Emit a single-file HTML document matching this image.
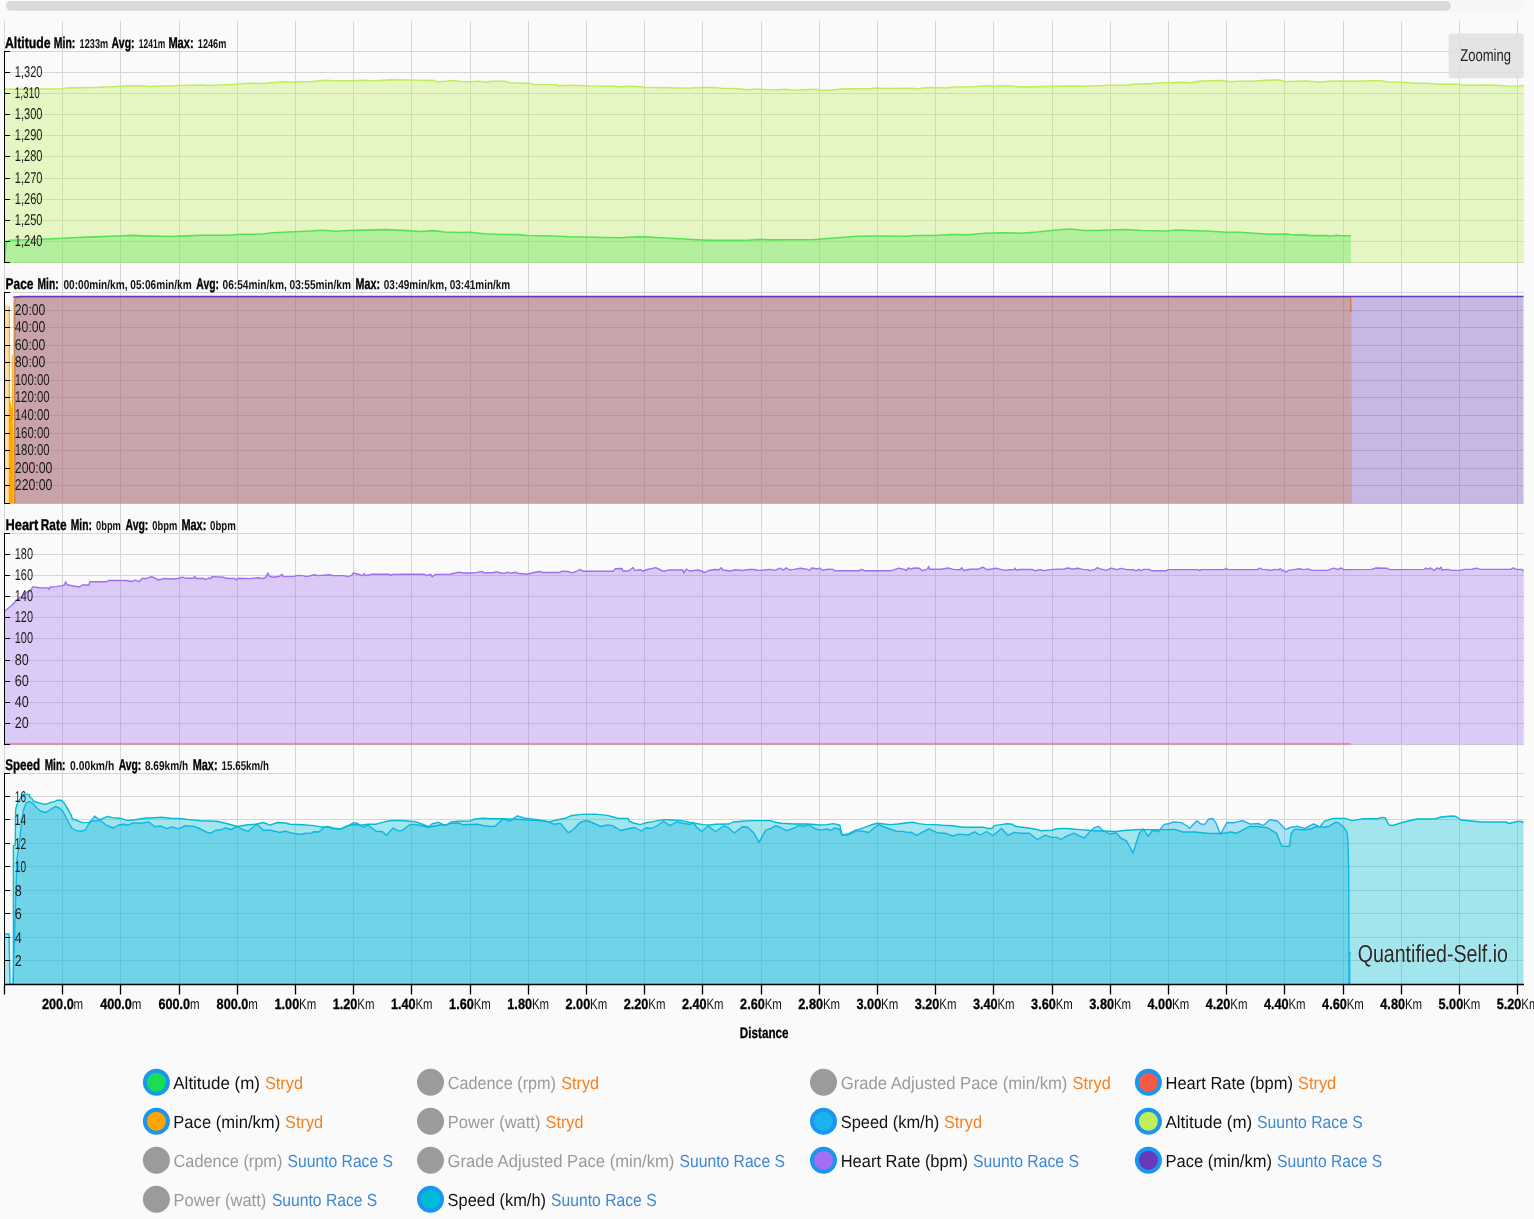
<!DOCTYPE html><html><head><meta charset="utf-8"><title>Chart</title><style>html,body{margin:0;padding:0;background:#fafafa;width:1534px;height:1219px;overflow:hidden}svg{display:block;will-change:transform}text{text-rendering:geometricPrecision}</style></head><body>
<svg width="1534" height="1219" viewBox="0 0 1534 1219">
<rect width="1534" height="1219" fill="#fafafa"/>
<rect x="4.5" y="0" width="1519" height="12.3" rx="6.1" fill="#f6f6f6"/>
<rect x="5.5" y="0.3" width="1446" height="11" rx="5.5" fill="#d9d9d9" stroke="#ffffff" stroke-width="1"/>
<path d="M4.5,21V984 M62.5,21V984 M120.5,21V984 M179.5,21V984 M237.5,21V984 M295.5,21V984 M353.5,21V984 M411.5,21V984 M470.5,21V984 M528.5,21V984 M586.5,21V984 M644.5,21V984 M702.5,21V984 M761.5,21V984 M819.5,21V984 M877.5,21V984 M935.5,21V984 M993.5,21V984 M1052.5,21V984 M1110.5,21V984 M1168.5,21V984 M1226.5,21V984 M1284.5,21V984 M1343.5,21V984 M1401.5,21V984 M1459.5,21V984 M1517.5,21V984 M4.5,51.5H1524.0 M4.5,72.5H1524.0 M4.5,93.5H1524.0 M4.5,114.5H1524.0 M4.5,135.5H1524.0 M4.5,156.5H1524.0 M4.5,178.5H1524.0 M4.5,199.5H1524.0 M4.5,220.5H1524.0 M4.5,241.5H1524.0 M4.5,262.5H1524.0 M4.5,292.5H1524.0 M4.5,310.5H1524.0 M4.5,327.5H1524.0 M4.5,345.5H1524.0 M4.5,362.5H1524.0 M4.5,380.5H1524.0 M4.5,397.5H1524.0 M4.5,415.5H1524.0 M4.5,433.5H1524.0 M4.5,450.5H1524.0 M4.5,468.5H1524.0 M4.5,485.5H1524.0 M4.5,503.5H1524.0 M4.5,744.5H1524.0 M4.5,723.5H1524.0 M4.5,702.5H1524.0 M4.5,681.5H1524.0 M4.5,660.5H1524.0 M4.5,638.5H1524.0 M4.5,617.5H1524.0 M4.5,596.5H1524.0 M4.5,575.5H1524.0 M4.5,554.5H1524.0 M4.5,533.5H1524.0 M4.5,773.5H1524.0 M4.5,796.5H1524.0 M4.5,819.5H1524.0 M4.5,843.5H1524.0 M4.5,866.5H1524.0 M4.5,890.5H1524.0 M4.5,913.5H1524.0 M4.5,937.5H1524.0 M4.5,960.5H1524.0 M4.5,984.5H1524.0" stroke="rgba(0,0,0,0.14)" stroke-width="1" fill="none" shape-rendering="crispEdges"/>
<polygon points="4.5,263.0 4.5,262.5 5.2,252.0 6.0,245.0 6.8,241.5 10.2,240.3 17.0,240.0 42.4,239.3 67.8,238.0 93.2,236.9 118.6,236.0 132.2,235.4 144.0,235.9 169.5,236.5 186.4,235.9 203.4,235.2 228.8,235.2 240.7,234.2 255.0,234.2 263.5,234.0 272.0,232.8 288.9,232.0 305.8,231.3 322.8,230.3 336.4,231.3 348.2,230.5 365.2,230.1 385.5,229.6 407.5,230.6 421.1,231.5 433.0,230.6 444.8,232.0 458.4,232.5 470.3,232.2 483.8,233.7 500.8,234.5 510.0,234.5 518.5,234.6 527.0,235.5 552.4,236.0 569.3,236.8 586.3,237.0 603.2,237.5 620.2,237.7 637.1,236.7 645.6,236.9 659.2,237.7 679.5,238.7 696.4,239.7 713.4,240.4 730.3,240.4 747.3,240.3 760.8,239.4 770.0,239.9 790.4,239.7 812.5,239.7 824.3,238.7 841.3,237.5 858.2,236.2 875.2,236.0 907.4,236.2 914.2,235.5 934.5,235.5 951.4,234.5 968.4,234.8 985.3,233.3 1002.3,232.8 1020.0,233.2 1037.0,232.0 1053.9,230.3 1069.2,229.0 1084.4,230.5 1096.3,230.5 1111.5,230.0 1125.1,229.5 1142.0,230.5 1167.5,231.0 1175.9,230.0 1189.5,230.5 1206.4,231.0 1226.8,232.2 1240.3,232.3 1257.3,233.5 1271.2,234.2 1287.6,234.1 1289.4,234.5 1299.3,234.9 1307.6,235.1 1308.7,235.6 1326.9,235.5 1328.7,236.0 1333.4,235.7 1336.9,235.2 1340.4,235.7 1351.0,235.7 1351.0,263.0" fill="#1ddc57" fill-opacity="0.35"/>
<polyline points="4.5,262.5 5.2,252.0 6.0,245.0 6.8,241.5 10.2,240.3 17.0,240.0 42.4,239.3 67.8,238.0 93.2,236.9 118.6,236.0 132.2,235.4 144.0,235.9 169.5,236.5 186.4,235.9 203.4,235.2 228.8,235.2 240.7,234.2 255.0,234.2 263.5,234.0 272.0,232.8 288.9,232.0 305.8,231.3 322.8,230.3 336.4,231.3 348.2,230.5 365.2,230.1 385.5,229.6 407.5,230.6 421.1,231.5 433.0,230.6 444.8,232.0 458.4,232.5 470.3,232.2 483.8,233.7 500.8,234.5 510.0,234.5 518.5,234.6 527.0,235.5 552.4,236.0 569.3,236.8 586.3,237.0 603.2,237.5 620.2,237.7 637.1,236.7 645.6,236.9 659.2,237.7 679.5,238.7 696.4,239.7 713.4,240.4 730.3,240.4 747.3,240.3 760.8,239.4 770.0,239.9 790.4,239.7 812.5,239.7 824.3,238.7 841.3,237.5 858.2,236.2 875.2,236.0 907.4,236.2 914.2,235.5 934.5,235.5 951.4,234.5 968.4,234.8 985.3,233.3 1002.3,232.8 1020.0,233.2 1037.0,232.0 1053.9,230.3 1069.2,229.0 1084.4,230.5 1096.3,230.5 1111.5,230.0 1125.1,229.5 1142.0,230.5 1167.5,231.0 1175.9,230.0 1189.5,230.5 1206.4,231.0 1226.8,232.2 1240.3,232.3 1257.3,233.5 1271.2,234.2 1287.6,234.1 1289.4,234.5 1299.3,234.9 1307.6,235.1 1308.7,235.6 1326.9,235.5 1328.7,236.0 1333.4,235.7 1336.9,235.2 1340.4,235.7 1351.0,235.7" fill="none" stroke="#1ddc57" stroke-width="1.6" stroke-linejoin="round" />
<polygon points="4.5,263.0 4.5,89.3 20.0,89.1 62.0,88.8 67.0,88.0 100.0,87.3 125.0,86.0 140.0,85.8 150.0,86.5 180.0,85.5 200.0,85.0 210.0,85.5 235.0,84.3 250.0,83.2 263.6,83.5 270.3,82.8 283.9,81.7 294.1,82.2 300.8,81.7 311.0,81.8 324.6,80.3 334.7,80.8 351.7,80.8 366.9,80.2 372.0,81.0 390.7,79.9 411.0,80.0 424.6,80.5 433.1,80.2 436.4,81.7 446.6,81.3 450.0,80.5 461.9,81.5 470.3,81.8 478.8,81.2 485.6,82.2 490.7,81.3 504.2,81.3 510.1,82.8 530.4,83.5 533.8,84.5 555.8,84.7 559.2,85.8 572.8,85.3 584.7,85.7 589.7,86.0 615.2,86.2 620.3,86.7 630.4,86.2 640.6,86.7 645.7,87.2 666.0,87.7 683.0,88.0 688.0,88.3 703.3,87.2 716.9,87.7 722.0,88.3 738.9,88.8 747.4,89.8 755.8,89.0 765.0,89.5 776.9,89.7 785.4,89.2 790.5,90.2 815.9,89.2 821.0,90.4 827.8,90.2 844.7,88.9 870.2,88.7 873.6,88.0 887.1,88.5 912.5,88.2 917.6,89.0 922.7,88.0 934.6,87.5 946.4,88.0 954.9,87.0 971.9,86.7 980.3,86.3 988.8,85.8 994.2,86.5 1000.7,85.8 1010.8,86.0 1020.0,86.9 1032.0,86.9 1048.9,86.4 1074.3,86.0 1082.8,86.3 1099.7,85.7 1109.9,85.2 1125.2,85.3 1133.6,84.2 1150.6,83.6 1164.2,82.8 1184.5,82.4 1191.3,82.9 1198.1,81.4 1209.9,80.7 1221.8,80.5 1230.3,81.7 1240.4,81.3 1252.3,81.2 1265.8,80.4 1278.5,79.8 1285.3,81.7 1290.3,81.5 1303.9,81.0 1320.8,82.0 1329.3,81.3 1341.2,81.0 1354.7,81.3 1371.7,80.7 1380.2,80.7 1388.6,82.0 1402.2,82.3 1414.1,83.2 1425.9,83.2 1439.5,84.2 1456.4,84.2 1463.2,85.2 1490.3,85.0 1507.3,86.0 1517.5,86.3 1520.8,85.5 1524.0,86.5 1524.0,263.0" fill="#c0ee5a" fill-opacity="0.35"/>
<polyline points="4.5,89.3 20.0,89.1 62.0,88.8 67.0,88.0 100.0,87.3 125.0,86.0 140.0,85.8 150.0,86.5 180.0,85.5 200.0,85.0 210.0,85.5 235.0,84.3 250.0,83.2 263.6,83.5 270.3,82.8 283.9,81.7 294.1,82.2 300.8,81.7 311.0,81.8 324.6,80.3 334.7,80.8 351.7,80.8 366.9,80.2 372.0,81.0 390.7,79.9 411.0,80.0 424.6,80.5 433.1,80.2 436.4,81.7 446.6,81.3 450.0,80.5 461.9,81.5 470.3,81.8 478.8,81.2 485.6,82.2 490.7,81.3 504.2,81.3 510.1,82.8 530.4,83.5 533.8,84.5 555.8,84.7 559.2,85.8 572.8,85.3 584.7,85.7 589.7,86.0 615.2,86.2 620.3,86.7 630.4,86.2 640.6,86.7 645.7,87.2 666.0,87.7 683.0,88.0 688.0,88.3 703.3,87.2 716.9,87.7 722.0,88.3 738.9,88.8 747.4,89.8 755.8,89.0 765.0,89.5 776.9,89.7 785.4,89.2 790.5,90.2 815.9,89.2 821.0,90.4 827.8,90.2 844.7,88.9 870.2,88.7 873.6,88.0 887.1,88.5 912.5,88.2 917.6,89.0 922.7,88.0 934.6,87.5 946.4,88.0 954.9,87.0 971.9,86.7 980.3,86.3 988.8,85.8 994.2,86.5 1000.7,85.8 1010.8,86.0 1020.0,86.9 1032.0,86.9 1048.9,86.4 1074.3,86.0 1082.8,86.3 1099.7,85.7 1109.9,85.2 1125.2,85.3 1133.6,84.2 1150.6,83.6 1164.2,82.8 1184.5,82.4 1191.3,82.9 1198.1,81.4 1209.9,80.7 1221.8,80.5 1230.3,81.7 1240.4,81.3 1252.3,81.2 1265.8,80.4 1278.5,79.8 1285.3,81.7 1290.3,81.5 1303.9,81.0 1320.8,82.0 1329.3,81.3 1341.2,81.0 1354.7,81.3 1371.7,80.7 1380.2,80.7 1388.6,82.0 1402.2,82.3 1414.1,83.2 1425.9,83.2 1439.5,84.2 1456.4,84.2 1463.2,85.2 1490.3,85.0 1507.3,86.0 1517.5,86.3 1520.8,85.5 1524.0,86.5" fill="none" stroke="#c0ee5a" stroke-width="1.6" stroke-linejoin="round" />
<polygon points="5,503.5 5,304.2 9.3,306.2 9.3,503.5" fill="#ffa500" fill-opacity="0.35"/>
<polygon points="8.8,503.5 8.8,306.2 9.8,306.2 10,400 12.3,410 13.3,440 13.3,503.5" fill="#ffa500"/>
<polyline points="12.2,355.0 12.5,420.0" fill="none" stroke="#ffa500" stroke-width="1" stroke-linejoin="round" />
<path d="M14.5,503.5 L14.5,300 Q15,297.2 19,297 L1350.5,297 L1351.5,311.5 L1352,503.5 Z" fill="#ffa500" fill-opacity="0.35"/>
<polyline points="14.8,503.5 14.8,301.0 16.0,298.2 22.0,297.2 1350.5,297.2 1351.0,311.5 1352.5,312.0" fill="none" stroke="#ffa500" stroke-width="1.3" stroke-linejoin="round" />
<rect x="13.3" y="296.5" width="1510.2" height="207.0" fill="#673ab7" fill-opacity="0.35"/>
<polyline points="13.3,297.3 20.0,296.5 1523.5,296.5" fill="none" stroke="#673ab7" stroke-width="1.5" stroke-linejoin="round" />
<polyline points="4.5,743.9 1351.0,743.9" fill="none" stroke="#f4533e" stroke-width="1.6" stroke-linejoin="round" stroke-opacity="0.55"/>
<polygon points="4.5,744.5 4.5,611.5 5.1,610.8 11.9,605.3 16.1,600.7 22.0,596.3 27.1,592.0 31.4,589.5 32.5,587.0 33.9,586.9 39.0,587.8 48.3,588.0 49.2,589.5 50.0,587.3 55.9,586.6 62.7,585.6 64.4,584.9 65.8,581.7 67.0,584.7 74.6,586.3 79.7,587.0 82.2,585.0 89.0,585.0 89.8,581.7 106.8,581.7 108.5,580.5 127.0,580.5 131.4,581.5 135.6,580.2 139.0,581.7 142.4,578.3 145.8,578.6 151.7,576.6 158.5,580.0 164.4,578.5 171.2,579.0 178.0,578.5 182.2,577.1 186.4,578.3 193.2,578.3 194.9,576.4 195.8,578.5 203.4,578.5 206.0,579.5 208.5,578.0 211.0,578.6 211.9,576.6 223.7,577.3 227.1,578.5 234.7,578.5 236.4,580.0 238.1,578.3 250.0,578.6 258.5,577.8 262.7,578.6 266.1,577.0 267.8,573.0 269.5,576.3 273.7,577.3 279.7,576.3 282.2,574.2 283.0,576.6 294.0,576.4 297.5,575.4 302.5,575.6 306.8,576.6 314.4,574.7 317.8,575.6 329.7,574.7 333.0,575.6 343.2,575.6 348.3,576.6 351.7,575.4 353.4,573.0 358.5,574.2 361.9,575.6 364.4,573.7 365.3,575.6 372.0,574.2 389.0,574.2 390.7,575.4 392.4,574.4 399.2,574.4 402.5,574.2 422.9,574.2 428.0,575.4 430.5,574.2 432.2,576.8 435.6,574.4 450.0,574.2 458.5,572.2 463.6,573.0 470.3,573.0 477.1,572.4 482.2,571.5 483.9,573.0 494.0,572.5 495.8,571.8 500.8,573.0 505.0,573.2 507.5,572.2 510.0,573.2 516.0,572.2 517.7,573.2 527.0,574.2 533.0,572.7 539.7,571.5 542.3,572.5 559.2,572.5 562.6,571.2 567.7,571.5 572.0,572.9 576.2,571.5 579.6,569.5 583.0,571.2 613.5,571.2 615.2,568.8 622.0,568.5 622.8,571.0 628.7,571.0 633.0,567.5 634.7,570.5 640.6,569.8 643.1,571.0 647.4,569.5 655.8,567.6 662.6,571.0 666.0,571.0 667.7,570.0 683.0,570.0 683.8,573.2 686.4,569.0 689.7,571.0 698.2,570.0 702.5,571.5 705.0,572.5 708.4,570.5 715.2,569.5 718.6,570.0 721.1,567.8 722.8,570.0 730.4,571.0 735.5,569.8 742.3,570.5 749.0,569.5 754.2,569.5 757.5,570.3 760.0,570.4 770.2,569.4 775.3,570.4 779.5,568.2 783.7,570.0 786.3,567.9 789.7,570.0 793.9,569.4 800.7,568.2 807.5,569.4 810.0,570.4 811.7,568.0 817.6,569.0 819.3,568.0 822.7,570.4 827.8,569.2 832.9,569.4 834.6,570.8 858.3,570.8 861.7,569.4 865.1,570.8 890.5,570.8 899.0,568.2 904.1,569.4 906.6,570.5 908.3,567.9 910.8,569.2 914.2,568.0 919.3,568.2 921.9,570.6 925.3,570.0 927.8,568.5 928.6,566.5 929.5,569.2 941.4,569.2 948.1,568.0 953.2,569.4 960.0,569.8 961.7,567.7 963.4,570.5 970.2,569.2 978.6,569.2 982.9,567.2 987.1,569.8 990.5,569.2 995.6,568.2 1000.7,569.4 1005.8,570.4 1009.2,569.8 1014.2,569.5 1015.1,568.2 1016.0,570.0 1020.0,569.5 1032.0,569.4 1035.3,570.8 1040.4,569.6 1043.8,570.6 1052.3,569.4 1064.2,569.0 1068.4,568.0 1071.8,569.2 1077.7,568.2 1082.8,569.4 1087.9,569.6 1089.6,570.6 1094.7,569.6 1097.2,567.7 1099.7,568.6 1105.7,570.4 1111.6,568.2 1116.7,569.6 1120.9,568.4 1126.9,569.6 1133.6,569.8 1136.2,570.8 1138.7,569.4 1140.4,570.6 1143.8,569.4 1148.9,569.4 1151.4,570.6 1154.0,570.8 1165.8,570.8 1168.4,569.6 1198.0,569.6 1199.7,570.8 1201.4,569.6 1224.3,569.6 1226.0,568.2 1227.7,569.6 1257.4,569.6 1259.1,568.2 1262.5,569.4 1267.5,569.6 1270.1,570.5 1275.1,569.4 1278.5,570.0 1280.2,568.6 1281.9,570.6 1283.6,570.2 1286.1,572.0 1288.6,570.4 1295.4,569.4 1298.8,568.7 1303.9,569.6 1308.1,568.9 1311.5,570.4 1327.6,570.4 1333.6,568.2 1337.8,569.4 1341.2,568.0 1343.7,569.6 1371.7,569.4 1375.9,568.0 1386.9,568.2 1389.5,569.6 1424.2,569.4 1425.9,568.0 1428.5,569.4 1430.2,567.9 1434.4,570.4 1436.9,568.0 1439.5,569.0 1441.2,567.2 1442.0,570.0 1448.0,569.4 1451.4,570.4 1459.8,570.4 1464.9,569.4 1471.7,569.2 1476.8,568.2 1480.2,569.4 1510.7,569.4 1513.2,567.9 1515.8,569.4 1521.7,569.4 1523.7,571.0 1523.7,744.5" fill="#a070ee" fill-opacity="0.35"/>
<polyline points="4.5,611.5 5.1,610.8 11.9,605.3 16.1,600.7 22.0,596.3 27.1,592.0 31.4,589.5 32.5,587.0 33.9,586.9 39.0,587.8 48.3,588.0 49.2,589.5 50.0,587.3 55.9,586.6 62.7,585.6 64.4,584.9 65.8,581.7 67.0,584.7 74.6,586.3 79.7,587.0 82.2,585.0 89.0,585.0 89.8,581.7 106.8,581.7 108.5,580.5 127.0,580.5 131.4,581.5 135.6,580.2 139.0,581.7 142.4,578.3 145.8,578.6 151.7,576.6 158.5,580.0 164.4,578.5 171.2,579.0 178.0,578.5 182.2,577.1 186.4,578.3 193.2,578.3 194.9,576.4 195.8,578.5 203.4,578.5 206.0,579.5 208.5,578.0 211.0,578.6 211.9,576.6 223.7,577.3 227.1,578.5 234.7,578.5 236.4,580.0 238.1,578.3 250.0,578.6 258.5,577.8 262.7,578.6 266.1,577.0 267.8,573.0 269.5,576.3 273.7,577.3 279.7,576.3 282.2,574.2 283.0,576.6 294.0,576.4 297.5,575.4 302.5,575.6 306.8,576.6 314.4,574.7 317.8,575.6 329.7,574.7 333.0,575.6 343.2,575.6 348.3,576.6 351.7,575.4 353.4,573.0 358.5,574.2 361.9,575.6 364.4,573.7 365.3,575.6 372.0,574.2 389.0,574.2 390.7,575.4 392.4,574.4 399.2,574.4 402.5,574.2 422.9,574.2 428.0,575.4 430.5,574.2 432.2,576.8 435.6,574.4 450.0,574.2 458.5,572.2 463.6,573.0 470.3,573.0 477.1,572.4 482.2,571.5 483.9,573.0 494.0,572.5 495.8,571.8 500.8,573.0 505.0,573.2 507.5,572.2 510.0,573.2 516.0,572.2 517.7,573.2 527.0,574.2 533.0,572.7 539.7,571.5 542.3,572.5 559.2,572.5 562.6,571.2 567.7,571.5 572.0,572.9 576.2,571.5 579.6,569.5 583.0,571.2 613.5,571.2 615.2,568.8 622.0,568.5 622.8,571.0 628.7,571.0 633.0,567.5 634.7,570.5 640.6,569.8 643.1,571.0 647.4,569.5 655.8,567.6 662.6,571.0 666.0,571.0 667.7,570.0 683.0,570.0 683.8,573.2 686.4,569.0 689.7,571.0 698.2,570.0 702.5,571.5 705.0,572.5 708.4,570.5 715.2,569.5 718.6,570.0 721.1,567.8 722.8,570.0 730.4,571.0 735.5,569.8 742.3,570.5 749.0,569.5 754.2,569.5 757.5,570.3 760.0,570.4 770.2,569.4 775.3,570.4 779.5,568.2 783.7,570.0 786.3,567.9 789.7,570.0 793.9,569.4 800.7,568.2 807.5,569.4 810.0,570.4 811.7,568.0 817.6,569.0 819.3,568.0 822.7,570.4 827.8,569.2 832.9,569.4 834.6,570.8 858.3,570.8 861.7,569.4 865.1,570.8 890.5,570.8 899.0,568.2 904.1,569.4 906.6,570.5 908.3,567.9 910.8,569.2 914.2,568.0 919.3,568.2 921.9,570.6 925.3,570.0 927.8,568.5 928.6,566.5 929.5,569.2 941.4,569.2 948.1,568.0 953.2,569.4 960.0,569.8 961.7,567.7 963.4,570.5 970.2,569.2 978.6,569.2 982.9,567.2 987.1,569.8 990.5,569.2 995.6,568.2 1000.7,569.4 1005.8,570.4 1009.2,569.8 1014.2,569.5 1015.1,568.2 1016.0,570.0 1020.0,569.5 1032.0,569.4 1035.3,570.8 1040.4,569.6 1043.8,570.6 1052.3,569.4 1064.2,569.0 1068.4,568.0 1071.8,569.2 1077.7,568.2 1082.8,569.4 1087.9,569.6 1089.6,570.6 1094.7,569.6 1097.2,567.7 1099.7,568.6 1105.7,570.4 1111.6,568.2 1116.7,569.6 1120.9,568.4 1126.9,569.6 1133.6,569.8 1136.2,570.8 1138.7,569.4 1140.4,570.6 1143.8,569.4 1148.9,569.4 1151.4,570.6 1154.0,570.8 1165.8,570.8 1168.4,569.6 1198.0,569.6 1199.7,570.8 1201.4,569.6 1224.3,569.6 1226.0,568.2 1227.7,569.6 1257.4,569.6 1259.1,568.2 1262.5,569.4 1267.5,569.6 1270.1,570.5 1275.1,569.4 1278.5,570.0 1280.2,568.6 1281.9,570.6 1283.6,570.2 1286.1,572.0 1288.6,570.4 1295.4,569.4 1298.8,568.7 1303.9,569.6 1308.1,568.9 1311.5,570.4 1327.6,570.4 1333.6,568.2 1337.8,569.4 1341.2,568.0 1343.7,569.6 1371.7,569.4 1375.9,568.0 1386.9,568.2 1389.5,569.6 1424.2,569.4 1425.9,568.0 1428.5,569.4 1430.2,567.9 1434.4,570.4 1436.9,568.0 1439.5,569.0 1441.2,567.2 1442.0,570.0 1448.0,569.4 1451.4,570.4 1459.8,570.4 1464.9,569.4 1471.7,569.2 1476.8,568.2 1480.2,569.4 1510.7,569.4 1513.2,567.9 1515.8,569.4 1521.7,569.4 1523.7,571.0" fill="none" stroke="#a070ee" stroke-width="1.4" stroke-linejoin="round" />
<polygon points="13.0,984.3 13.0,984.0 16.9,860.0 19.6,841.0 21.5,822.0 23.5,810.0 26.1,803.0 29.3,801.4 32.6,803.3 36.5,807.5 40.4,811.0 45.6,812.5 50.8,809.3 55.4,806.5 60.0,808.5 62.6,811.0 65.2,815.5 68.4,822.0 71.7,828.0 76.3,830.6 81.5,831.2 85.4,830.0 88.7,824.0 90.0,822.6 94.6,816.1 100.4,820.6 107.0,825.5 113.5,828.0 118.7,825.0 123.9,824.2 127.8,825.2 133.0,823.0 142.2,823.1 148.7,822.0 155.2,826.7 160.4,826.0 166.9,828.7 172.1,826.8 178.7,828.8 185.2,825.6 194.3,826.5 198.2,828.0 207.3,832.5 210.6,833.2 215.2,830.5 220.4,829.8 225.6,827.8 230.8,829.5 237.3,826.5 242.5,829.5 248.4,831.3 253.0,827.0 256.9,824.2 263.4,830.2 269.9,830.2 275.1,831.2 279.0,832.5 285.6,831.2 290.0,832.7 300.4,834.5 305.6,833.3 310.9,833.4 313.5,831.8 318.7,832.0 323.9,827.5 327.8,826.3 331.7,828.5 340.8,829.2 347.4,826.0 353.9,822.6 357.8,823.5 363.0,827.3 368.2,825.2 376.0,831.2 382.6,831.7 386.5,835.3 393.0,828.0 398.2,830.9 402.1,830.5 410.0,824.5 415.2,824.5 420.4,825.5 428.2,827.3 432.1,823.8 438.6,822.3 445.1,825.4 451.7,823.2 458.2,823.0 463.4,824.8 469.9,824.5 477.7,824.2 483.0,825.5 490.0,826.5 495.2,826.3 503.0,818.6 509.6,821.4 517.4,815.8 523.9,818.0 529.1,818.6 539.5,820.0 548.7,822.0 553.9,824.2 560.4,823.2 568.2,832.8 573.4,829.5 580.0,822.5 586.5,820.5 594.3,823.5 600.8,826.5 607.3,825.0 612.6,825.6 620.4,830.5 628.2,828.8 634.7,827.5 641.2,831.0 646.5,827.7 651.7,828.5 658.2,825.0 663.4,821.3 669.9,825.6 676.4,822.0 683.0,823.3 690.0,824.5 692.6,822.3 696.5,827.0 701.7,831.5 708.3,825.8 715.4,831.8 723.9,825.8 727.8,827.3 734.3,833.0 742.2,826.7 747.4,827.0 753.9,833.0 759.1,842.4 765.6,830.2 770.8,828.3 776.0,825.6 781.3,828.0 786.5,830.7 794.3,828.0 798.2,825.6 804.7,826.2 808.6,824.5 815.2,828.8 820.4,830.1 826.9,829.0 830.8,830.5 834.7,827.8 839.9,829.5 841.9,835.3 849.1,833.3 855.6,830.0 859.5,831.0 864.7,831.5 868.6,832.5 873.8,828.0 879.0,824.6 885.6,827.5 890.0,829.0 896.5,831.4 903.0,831.4 907.0,832.4 910.9,832.2 916.7,835.3 923.9,831.4 929.1,829.0 936.9,832.7 944.8,833.2 952.6,836.0 959.1,834.1 968.2,835.0 974.7,831.8 980.0,835.0 986.5,831.5 993.0,835.5 1001.5,828.5 1008.0,835.3 1013.9,832.3 1020.4,833.2 1029.5,833.3 1037.3,839.5 1045.1,835.2 1051.7,837.4 1056.9,837.4 1060.8,839.5 1066.0,836.3 1073.8,833.2 1079.0,835.7 1084.3,838.2 1090.0,831.4 1093.9,828.0 1098.5,826.4 1103.0,830.4 1109.6,834.0 1116.1,833.0 1121.3,838.4 1126.5,841.0 1133.0,853.2 1139.5,833.0 1143.5,829.0 1148.0,836.3 1152.6,830.3 1158.4,831.8 1164.3,824.4 1168.2,823.8 1173.4,822.0 1181.3,822.6 1186.5,825.5 1189.7,828.3 1196.9,820.8 1200.8,824.0 1204.7,824.4 1208.6,819.2 1212.6,818.4 1215.8,822.6 1220.4,834.3 1226.9,822.5 1233.4,822.8 1242.5,820.6 1250.4,824.1 1258.2,823.5 1263.4,825.6 1269.9,819.8 1277.7,821.3 1285.6,829.4 1290.0,828.0 1288.9,827.6 1298.0,826.3 1304.6,828.4 1313.7,824.0 1318.9,826.5 1324.1,827.3 1329.3,826.2 1335.8,822.2 1339.1,823.2 1343.7,827.3 1346.9,831.7 1347.9,840.0 1348.7,870.0 1349.0,984.0 1349.0,984.3" fill="#1ab2ec" fill-opacity="0.35"/>
<polyline points="13.0,984.0 16.9,860.0 19.6,841.0 21.5,822.0 23.5,810.0 26.1,803.0 29.3,801.4 32.6,803.3 36.5,807.5 40.4,811.0 45.6,812.5 50.8,809.3 55.4,806.5 60.0,808.5 62.6,811.0 65.2,815.5 68.4,822.0 71.7,828.0 76.3,830.6 81.5,831.2 85.4,830.0 88.7,824.0 90.0,822.6 94.6,816.1 100.4,820.6 107.0,825.5 113.5,828.0 118.7,825.0 123.9,824.2 127.8,825.2 133.0,823.0 142.2,823.1 148.7,822.0 155.2,826.7 160.4,826.0 166.9,828.7 172.1,826.8 178.7,828.8 185.2,825.6 194.3,826.5 198.2,828.0 207.3,832.5 210.6,833.2 215.2,830.5 220.4,829.8 225.6,827.8 230.8,829.5 237.3,826.5 242.5,829.5 248.4,831.3 253.0,827.0 256.9,824.2 263.4,830.2 269.9,830.2 275.1,831.2 279.0,832.5 285.6,831.2 290.0,832.7 300.4,834.5 305.6,833.3 310.9,833.4 313.5,831.8 318.7,832.0 323.9,827.5 327.8,826.3 331.7,828.5 340.8,829.2 347.4,826.0 353.9,822.6 357.8,823.5 363.0,827.3 368.2,825.2 376.0,831.2 382.6,831.7 386.5,835.3 393.0,828.0 398.2,830.9 402.1,830.5 410.0,824.5 415.2,824.5 420.4,825.5 428.2,827.3 432.1,823.8 438.6,822.3 445.1,825.4 451.7,823.2 458.2,823.0 463.4,824.8 469.9,824.5 477.7,824.2 483.0,825.5 490.0,826.5 495.2,826.3 503.0,818.6 509.6,821.4 517.4,815.8 523.9,818.0 529.1,818.6 539.5,820.0 548.7,822.0 553.9,824.2 560.4,823.2 568.2,832.8 573.4,829.5 580.0,822.5 586.5,820.5 594.3,823.5 600.8,826.5 607.3,825.0 612.6,825.6 620.4,830.5 628.2,828.8 634.7,827.5 641.2,831.0 646.5,827.7 651.7,828.5 658.2,825.0 663.4,821.3 669.9,825.6 676.4,822.0 683.0,823.3 690.0,824.5 692.6,822.3 696.5,827.0 701.7,831.5 708.3,825.8 715.4,831.8 723.9,825.8 727.8,827.3 734.3,833.0 742.2,826.7 747.4,827.0 753.9,833.0 759.1,842.4 765.6,830.2 770.8,828.3 776.0,825.6 781.3,828.0 786.5,830.7 794.3,828.0 798.2,825.6 804.7,826.2 808.6,824.5 815.2,828.8 820.4,830.1 826.9,829.0 830.8,830.5 834.7,827.8 839.9,829.5 841.9,835.3 849.1,833.3 855.6,830.0 859.5,831.0 864.7,831.5 868.6,832.5 873.8,828.0 879.0,824.6 885.6,827.5 890.0,829.0 896.5,831.4 903.0,831.4 907.0,832.4 910.9,832.2 916.7,835.3 923.9,831.4 929.1,829.0 936.9,832.7 944.8,833.2 952.6,836.0 959.1,834.1 968.2,835.0 974.7,831.8 980.0,835.0 986.5,831.5 993.0,835.5 1001.5,828.5 1008.0,835.3 1013.9,832.3 1020.4,833.2 1029.5,833.3 1037.3,839.5 1045.1,835.2 1051.7,837.4 1056.9,837.4 1060.8,839.5 1066.0,836.3 1073.8,833.2 1079.0,835.7 1084.3,838.2 1090.0,831.4 1093.9,828.0 1098.5,826.4 1103.0,830.4 1109.6,834.0 1116.1,833.0 1121.3,838.4 1126.5,841.0 1133.0,853.2 1139.5,833.0 1143.5,829.0 1148.0,836.3 1152.6,830.3 1158.4,831.8 1164.3,824.4 1168.2,823.8 1173.4,822.0 1181.3,822.6 1186.5,825.5 1189.7,828.3 1196.9,820.8 1200.8,824.0 1204.7,824.4 1208.6,819.2 1212.6,818.4 1215.8,822.6 1220.4,834.3 1226.9,822.5 1233.4,822.8 1242.5,820.6 1250.4,824.1 1258.2,823.5 1263.4,825.6 1269.9,819.8 1277.7,821.3 1285.6,829.4 1290.0,828.0 1288.9,827.6 1298.0,826.3 1304.6,828.4 1313.7,824.0 1318.9,826.5 1324.1,827.3 1329.3,826.2 1335.8,822.2 1339.1,823.2 1343.7,827.3 1346.9,831.7 1347.9,840.0 1348.7,870.0 1349.0,984.0" fill="none" stroke="#1ab2ec" stroke-width="1.4" stroke-linejoin="round" />
<polyline points="1349.8,984.0 1349.8,952.6 1351.0,952.0" fill="none" stroke="#1ab2ec" stroke-width="1.2" stroke-linejoin="round" />
<polygon points="4.5,984.3 4.5,934.0 9.0,934.0 10.0,984.0 12.0,984.0 13.4,984.0 13.4,845.6 15.3,845.0 15.6,810.0 16.9,804.5 19.6,800.0 22.2,795.0 23.5,794.4 29.3,794.4 30.0,797.5 31.9,798.5 33.2,801.0 39.1,803.0 45.6,804.4 50.8,802.4 54.8,801.6 57.4,800.2 61.3,800.3 64.5,803.3 65.8,806.0 67.1,808.0 68.4,810.0 69.8,813.0 71.1,815.0 72.4,819.0 76.9,820.5 82.1,822.6 89.3,822.4 90.0,821.3 97.8,820.6 107.6,816.3 112.2,817.6 120.0,818.2 127.8,820.6 133.0,820.0 144.8,818.3 155.2,817.7 161.7,817.2 170.8,818.2 181.3,818.8 189.1,819.6 200.8,820.8 216.5,821.3 225.6,823.3 237.3,826.5 246.5,825.0 256.9,824.0 263.4,822.5 269.9,825.2 277.7,822.5 285.6,823.0 290.0,824.2 303.0,824.8 313.5,825.6 322.6,827.2 327.8,826.8 333.0,828.0 340.8,829.0 346.1,826.5 352.6,824.5 360.4,825.2 368.2,824.2 376.0,824.2 386.5,821.3 391.7,820.5 400.8,820.5 407.3,821.0 415.2,821.6 420.4,823.5 424.3,825.0 429.5,827.0 439.9,825.0 446.5,824.8 451.7,821.6 459.5,821.3 469.9,821.0 475.1,819.0 483.0,818.2 490.0,818.8 503.0,818.8 516.1,819.2 529.1,820.0 542.2,820.8 550.0,821.6 557.8,819.7 565.6,818.2 570.8,815.8 581.3,814.4 594.3,814.1 607.3,815.4 615.2,817.5 617.8,818.4 628.2,818.4 628.9,821.0 633.4,823.0 640.0,824.6 646.5,822.7 653.0,821.6 663.4,819.6 672.5,820.0 681.7,820.6 690.0,822.5 703.0,824.6 709.6,825.0 716.1,824.3 729.1,824.0 733.0,822.0 742.2,821.3 751.3,820.6 760.4,820.6 770.8,820.6 774.7,822.3 781.3,823.3 794.3,824.0 807.3,824.0 820.4,825.0 826.9,824.6 833.4,823.6 839.9,825.3 841.9,834.2 846.5,835.3 851.7,833.5 858.2,829.6 864.7,827.3 872.5,824.5 877.7,823.3 890.0,824.6 897.8,824.0 905.6,823.0 912.8,822.2 918.7,823.6 926.5,824.6 935.6,824.6 942.2,825.3 952.6,825.8 963.0,827.3 974.7,827.3 983.9,827.3 987.8,828.5 991.7,828.5 994.3,825.6 1000.8,824.6 1007.3,823.8 1011.9,824.2 1015.2,826.3 1020.4,827.0 1028.2,828.0 1034.7,829.0 1041.2,830.7 1051.7,830.2 1056.9,828.8 1064.7,828.4 1072.5,829.0 1080.4,829.6 1090.0,830.5 1103.0,831.0 1116.1,831.5 1123.9,830.5 1139.5,829.5 1147.4,829.6 1155.2,829.8 1163.0,829.6 1174.7,829.4 1182.6,832.0 1194.3,832.0 1207.3,833.3 1220.4,833.5 1226.9,832.8 1230.8,832.0 1236.0,833.3 1241.2,830.8 1249.1,826.5 1258.2,826.5 1262.1,827.3 1267.3,827.5 1272.5,830.8 1276.4,833.0 1281.7,846.0 1289.5,846.2 1291.0,834.0 1294.1,829.4 1298.0,829.2 1304.6,830.0 1311.1,828.8 1313.7,827.5 1320.2,826.5 1324.1,821.3 1333.2,818.4 1345.0,818.4 1352.1,820.6 1363.2,818.7 1378.2,818.7 1381.5,817.4 1385.0,817.6 1389.0,825.0 1393.0,825.5 1402.0,822.5 1417.0,819.0 1435.0,819.0 1441.0,817.0 1452.0,816.0 1456.0,816.5 1461.0,820.0 1482.0,822.0 1506.0,822.0 1509.0,823.5 1517.0,821.5 1522.0,821.5 1523.5,823.0 1523.5,984.3" fill="#00bcd4" fill-opacity="0.35"/>
<polyline points="4.5,934.0 9.0,934.0 10.0,984.0 12.0,984.0 13.4,984.0 13.4,845.6 15.3,845.0 15.6,810.0 16.9,804.5 19.6,800.0 22.2,795.0 23.5,794.4 29.3,794.4 30.0,797.5 31.9,798.5 33.2,801.0 39.1,803.0 45.6,804.4 50.8,802.4 54.8,801.6 57.4,800.2 61.3,800.3 64.5,803.3 65.8,806.0 67.1,808.0 68.4,810.0 69.8,813.0 71.1,815.0 72.4,819.0 76.9,820.5 82.1,822.6 89.3,822.4 90.0,821.3 97.8,820.6 107.6,816.3 112.2,817.6 120.0,818.2 127.8,820.6 133.0,820.0 144.8,818.3 155.2,817.7 161.7,817.2 170.8,818.2 181.3,818.8 189.1,819.6 200.8,820.8 216.5,821.3 225.6,823.3 237.3,826.5 246.5,825.0 256.9,824.0 263.4,822.5 269.9,825.2 277.7,822.5 285.6,823.0 290.0,824.2 303.0,824.8 313.5,825.6 322.6,827.2 327.8,826.8 333.0,828.0 340.8,829.0 346.1,826.5 352.6,824.5 360.4,825.2 368.2,824.2 376.0,824.2 386.5,821.3 391.7,820.5 400.8,820.5 407.3,821.0 415.2,821.6 420.4,823.5 424.3,825.0 429.5,827.0 439.9,825.0 446.5,824.8 451.7,821.6 459.5,821.3 469.9,821.0 475.1,819.0 483.0,818.2 490.0,818.8 503.0,818.8 516.1,819.2 529.1,820.0 542.2,820.8 550.0,821.6 557.8,819.7 565.6,818.2 570.8,815.8 581.3,814.4 594.3,814.1 607.3,815.4 615.2,817.5 617.8,818.4 628.2,818.4 628.9,821.0 633.4,823.0 640.0,824.6 646.5,822.7 653.0,821.6 663.4,819.6 672.5,820.0 681.7,820.6 690.0,822.5 703.0,824.6 709.6,825.0 716.1,824.3 729.1,824.0 733.0,822.0 742.2,821.3 751.3,820.6 760.4,820.6 770.8,820.6 774.7,822.3 781.3,823.3 794.3,824.0 807.3,824.0 820.4,825.0 826.9,824.6 833.4,823.6 839.9,825.3 841.9,834.2 846.5,835.3 851.7,833.5 858.2,829.6 864.7,827.3 872.5,824.5 877.7,823.3 890.0,824.6 897.8,824.0 905.6,823.0 912.8,822.2 918.7,823.6 926.5,824.6 935.6,824.6 942.2,825.3 952.6,825.8 963.0,827.3 974.7,827.3 983.9,827.3 987.8,828.5 991.7,828.5 994.3,825.6 1000.8,824.6 1007.3,823.8 1011.9,824.2 1015.2,826.3 1020.4,827.0 1028.2,828.0 1034.7,829.0 1041.2,830.7 1051.7,830.2 1056.9,828.8 1064.7,828.4 1072.5,829.0 1080.4,829.6 1090.0,830.5 1103.0,831.0 1116.1,831.5 1123.9,830.5 1139.5,829.5 1147.4,829.6 1155.2,829.8 1163.0,829.6 1174.7,829.4 1182.6,832.0 1194.3,832.0 1207.3,833.3 1220.4,833.5 1226.9,832.8 1230.8,832.0 1236.0,833.3 1241.2,830.8 1249.1,826.5 1258.2,826.5 1262.1,827.3 1267.3,827.5 1272.5,830.8 1276.4,833.0 1281.7,846.0 1289.5,846.2 1291.0,834.0 1294.1,829.4 1298.0,829.2 1304.6,830.0 1311.1,828.8 1313.7,827.5 1320.2,826.5 1324.1,821.3 1333.2,818.4 1345.0,818.4 1352.1,820.6 1363.2,818.7 1378.2,818.7 1381.5,817.4 1385.0,817.6 1389.0,825.0 1393.0,825.5 1402.0,822.5 1417.0,819.0 1435.0,819.0 1441.0,817.0 1452.0,816.0 1456.0,816.5 1461.0,820.0 1482.0,822.0 1506.0,822.0 1509.0,823.5 1517.0,821.5 1522.0,821.5 1523.5,823.0" fill="none" stroke="#00bcd4" stroke-width="1.4" stroke-linejoin="round" />
<path d="M4.5,51.0V263.0 M4.5,292.0V503.5 M4.5,533.0V744.5 M4.5,773.0V984.5 M4,51.5H9.5 M4,72.5H9.5 M4,93.5H9.5 M4,114.5H9.5 M4,135.5H9.5 M4,156.5H9.5 M4,178.5H9.5 M4,199.5H9.5 M4,220.5H9.5 M4,241.5H9.5 M4,262.5H9.5 M4,292.5H9.5 M4,310.5H9.5 M4,327.5H9.5 M4,345.5H9.5 M4,362.5H9.5 M4,380.5H9.5 M4,397.5H9.5 M4,415.5H9.5 M4,433.5H9.5 M4,450.5H9.5 M4,468.5H9.5 M4,485.5H9.5 M4,503.5H9.5 M4,744.5H9.5 M4,723.5H9.5 M4,702.5H9.5 M4,681.5H9.5 M4,660.5H9.5 M4,638.5H9.5 M4,617.5H9.5 M4,596.5H9.5 M4,575.5H9.5 M4,554.5H9.5 M4,533.5H9.5 M4,773.5H9.5 M4,796.5H9.5 M4,819.5H9.5 M4,843.5H9.5 M4,866.5H9.5 M4,890.5H9.5 M4,913.5H9.5 M4,937.5H9.5 M4,960.5H9.5 M4,984.5H9.5" stroke="#000" stroke-width="1" fill="none" shape-rendering="crispEdges"/>
<path d="M4,984.5H1524 M4.5,984V994.5 M62.5,984V994.5 M120.5,984V994.5 M179.5,984V994.5 M237.5,984V994.5 M295.5,984V994.5 M353.5,984V994.5 M411.5,984V994.5 M470.5,984V994.5 M528.5,984V994.5 M586.5,984V994.5 M644.5,984V994.5 M702.5,984V994.5 M761.5,984V994.5 M819.5,984V994.5 M877.5,984V994.5 M935.5,984V994.5 M993.5,984V994.5 M1052.5,984V994.5 M1110.5,984V994.5 M1168.5,984V994.5 M1226.5,984V994.5 M1284.5,984V994.5 M1343.5,984V994.5 M1401.5,984V994.5 M1459.5,984V994.5 M1517.5,984V994.5" stroke="#000" stroke-width="1.3" fill="none"/>
<text x="5.0" y="48.2" font-family="Liberation Sans" font-size="15.5" font-weight="bold" fill="#000" text-anchor="start" textLength="45.5" lengthAdjust="spacingAndGlyphs" stroke="#000" stroke-width="0.35">Altitude</text>
<text x="53.8" y="48.2" font-family="Liberation Sans" font-size="15.5" font-weight="bold" fill="#000" text-anchor="start" textLength="21.5" lengthAdjust="spacingAndGlyphs" stroke="#000" stroke-width="0.35">Min:</text>
<text x="79.6" y="48.2" font-family="Liberation Sans" font-size="12.8" font-weight="bold" fill="#111" text-anchor="start" textLength="28.6" lengthAdjust="spacingAndGlyphs" >1233m</text>
<text x="111.6" y="48.2" font-family="Liberation Sans" font-size="15.5" font-weight="bold" fill="#000" text-anchor="start" textLength="23.0" lengthAdjust="spacingAndGlyphs" stroke="#000" stroke-width="0.35">Avg:</text>
<text x="138.8" y="48.2" font-family="Liberation Sans" font-size="12.8" font-weight="bold" fill="#111" text-anchor="start" textLength="26.4" lengthAdjust="spacingAndGlyphs" >1241m</text>
<text x="168.4" y="48.2" font-family="Liberation Sans" font-size="15.5" font-weight="bold" fill="#000" text-anchor="start" textLength="25.2" lengthAdjust="spacingAndGlyphs" stroke="#000" stroke-width="0.35">Max:</text>
<text x="197.8" y="48.2" font-family="Liberation Sans" font-size="12.8" font-weight="bold" fill="#111" text-anchor="start" textLength="28.5" lengthAdjust="spacingAndGlyphs" >1246m</text>
<text x="5.6" y="289.2" font-family="Liberation Sans" font-size="15.5" font-weight="bold" fill="#000" text-anchor="start" textLength="27.9" lengthAdjust="spacingAndGlyphs" stroke="#000" stroke-width="0.35">Pace</text>
<text x="37.5" y="289.2" font-family="Liberation Sans" font-size="15.5" font-weight="bold" fill="#000" text-anchor="start" textLength="21.1" lengthAdjust="spacingAndGlyphs" stroke="#000" stroke-width="0.35">Min:</text>
<text x="63.4" y="289.2" font-family="Liberation Sans" font-size="12.8" font-weight="bold" fill="#111" text-anchor="start" textLength="128.3" lengthAdjust="spacingAndGlyphs" >00:00min/km, 05:06min/km</text>
<text x="196.3" y="289.2" font-family="Liberation Sans" font-size="15.5" font-weight="bold" fill="#000" text-anchor="start" textLength="22.6" lengthAdjust="spacingAndGlyphs" stroke="#000" stroke-width="0.35">Avg:</text>
<text x="222.6" y="289.2" font-family="Liberation Sans" font-size="12.8" font-weight="bold" fill="#111" text-anchor="start" textLength="128.4" lengthAdjust="spacingAndGlyphs" >06:54min/km, 03:55min/km</text>
<text x="355.6" y="289.2" font-family="Liberation Sans" font-size="15.5" font-weight="bold" fill="#000" text-anchor="start" textLength="24.4" lengthAdjust="spacingAndGlyphs" stroke="#000" stroke-width="0.35">Max:</text>
<text x="383.8" y="289.2" font-family="Liberation Sans" font-size="12.8" font-weight="bold" fill="#111" text-anchor="start" textLength="126.4" lengthAdjust="spacingAndGlyphs" >03:49min/km, 03:41min/km</text>
<text x="5.6" y="530.1" font-family="Liberation Sans" font-size="15.5" font-weight="bold" fill="#000" text-anchor="start" textLength="32.8" lengthAdjust="spacingAndGlyphs" stroke="#000" stroke-width="0.35">Heart</text>
<text x="40.8" y="530.1" font-family="Liberation Sans" font-size="15.5" font-weight="bold" fill="#000" text-anchor="start" textLength="25.7" lengthAdjust="spacingAndGlyphs" stroke="#000" stroke-width="0.35">Rate</text>
<text x="70.8" y="530.1" font-family="Liberation Sans" font-size="15.5" font-weight="bold" fill="#000" text-anchor="start" textLength="21.1" lengthAdjust="spacingAndGlyphs" stroke="#000" stroke-width="0.35">Min:</text>
<text x="96.1" y="530.1" font-family="Liberation Sans" font-size="12.8" font-weight="bold" fill="#111" text-anchor="start" textLength="24.8" lengthAdjust="spacingAndGlyphs" >0bpm</text>
<text x="125.5" y="530.1" font-family="Liberation Sans" font-size="15.5" font-weight="bold" fill="#000" text-anchor="start" textLength="22.8" lengthAdjust="spacingAndGlyphs" stroke="#000" stroke-width="0.35">Avg:</text>
<text x="152.3" y="530.1" font-family="Liberation Sans" font-size="12.8" font-weight="bold" fill="#111" text-anchor="start" textLength="25.0" lengthAdjust="spacingAndGlyphs" >0bpm</text>
<text x="181.4" y="530.1" font-family="Liberation Sans" font-size="15.5" font-weight="bold" fill="#000" text-anchor="start" textLength="24.9" lengthAdjust="spacingAndGlyphs" stroke="#000" stroke-width="0.35">Max:</text>
<text x="210.0" y="530.1" font-family="Liberation Sans" font-size="12.8" font-weight="bold" fill="#111" text-anchor="start" textLength="25.8" lengthAdjust="spacingAndGlyphs" >0bpm</text>
<text x="5.2" y="770.2" font-family="Liberation Sans" font-size="15.5" font-weight="bold" fill="#000" text-anchor="start" textLength="34.9" lengthAdjust="spacingAndGlyphs" stroke="#000" stroke-width="0.35">Speed</text>
<text x="44.7" y="770.2" font-family="Liberation Sans" font-size="15.5" font-weight="bold" fill="#000" text-anchor="start" textLength="20.8" lengthAdjust="spacingAndGlyphs" stroke="#000" stroke-width="0.35">Min:</text>
<text x="70.1" y="770.2" font-family="Liberation Sans" font-size="12.8" font-weight="bold" fill="#111" text-anchor="start" textLength="44.1" lengthAdjust="spacingAndGlyphs" >0.00km/h</text>
<text x="118.7" y="770.2" font-family="Liberation Sans" font-size="15.5" font-weight="bold" fill="#000" text-anchor="start" textLength="22.5" lengthAdjust="spacingAndGlyphs" stroke="#000" stroke-width="0.35">Avg:</text>
<text x="144.9" y="770.2" font-family="Liberation Sans" font-size="12.8" font-weight="bold" fill="#111" text-anchor="start" textLength="43.3" lengthAdjust="spacingAndGlyphs" >8.69km/h</text>
<text x="192.8" y="770.2" font-family="Liberation Sans" font-size="15.5" font-weight="bold" fill="#000" text-anchor="start" textLength="24.7" lengthAdjust="spacingAndGlyphs" stroke="#000" stroke-width="0.35">Max:</text>
<text x="221.6" y="770.2" font-family="Liberation Sans" font-size="12.8" font-weight="bold" fill="#111" text-anchor="start" textLength="47.3" lengthAdjust="spacingAndGlyphs" >15.65km/h</text>
<text x="14.8" y="76.8" font-family="Liberation Sans" font-size="15.6" font-weight="normal" fill="#1a1a1a" text-anchor="start" textLength="27.7" lengthAdjust="spacingAndGlyphs" >1,320</text>
<text x="14.8" y="97.8" font-family="Liberation Sans" font-size="15.6" font-weight="normal" fill="#1a1a1a" text-anchor="start" textLength="24.9" lengthAdjust="spacingAndGlyphs" >1,310</text>
<text x="14.8" y="118.8" font-family="Liberation Sans" font-size="15.6" font-weight="normal" fill="#1a1a1a" text-anchor="start" textLength="27.7" lengthAdjust="spacingAndGlyphs" >1,300</text>
<text x="14.8" y="139.8" font-family="Liberation Sans" font-size="15.6" font-weight="normal" fill="#1a1a1a" text-anchor="start" textLength="27.7" lengthAdjust="spacingAndGlyphs" >1,290</text>
<text x="14.8" y="160.8" font-family="Liberation Sans" font-size="15.6" font-weight="normal" fill="#1a1a1a" text-anchor="start" textLength="27.7" lengthAdjust="spacingAndGlyphs" >1,280</text>
<text x="14.8" y="182.8" font-family="Liberation Sans" font-size="15.6" font-weight="normal" fill="#1a1a1a" text-anchor="start" textLength="27.7" lengthAdjust="spacingAndGlyphs" >1,270</text>
<text x="14.8" y="203.8" font-family="Liberation Sans" font-size="15.6" font-weight="normal" fill="#1a1a1a" text-anchor="start" textLength="27.7" lengthAdjust="spacingAndGlyphs" >1,260</text>
<text x="14.8" y="224.8" font-family="Liberation Sans" font-size="15.6" font-weight="normal" fill="#1a1a1a" text-anchor="start" textLength="27.7" lengthAdjust="spacingAndGlyphs" >1,250</text>
<text x="14.8" y="245.8" font-family="Liberation Sans" font-size="15.6" font-weight="normal" fill="#1a1a1a" text-anchor="start" textLength="27.7" lengthAdjust="spacingAndGlyphs" >1,240</text>
<text x="14.8" y="314.8" font-family="Liberation Sans" font-size="15.6" font-weight="normal" fill="#1a1a1a" text-anchor="start" textLength="30.6" lengthAdjust="spacingAndGlyphs" >20:00</text>
<text x="14.8" y="331.8" font-family="Liberation Sans" font-size="15.6" font-weight="normal" fill="#1a1a1a" text-anchor="start" textLength="30.6" lengthAdjust="spacingAndGlyphs" >40:00</text>
<text x="14.8" y="349.8" font-family="Liberation Sans" font-size="15.6" font-weight="normal" fill="#1a1a1a" text-anchor="start" textLength="30.6" lengthAdjust="spacingAndGlyphs" >60:00</text>
<text x="14.8" y="366.8" font-family="Liberation Sans" font-size="15.6" font-weight="normal" fill="#1a1a1a" text-anchor="start" textLength="30.6" lengthAdjust="spacingAndGlyphs" >80:00</text>
<text x="14.8" y="384.8" font-family="Liberation Sans" font-size="15.6" font-weight="normal" fill="#1a1a1a" text-anchor="start" textLength="34.8" lengthAdjust="spacingAndGlyphs" >100:00</text>
<text x="14.8" y="401.8" font-family="Liberation Sans" font-size="15.6" font-weight="normal" fill="#1a1a1a" text-anchor="start" textLength="34.8" lengthAdjust="spacingAndGlyphs" >120:00</text>
<text x="14.8" y="419.8" font-family="Liberation Sans" font-size="15.6" font-weight="normal" fill="#1a1a1a" text-anchor="start" textLength="34.8" lengthAdjust="spacingAndGlyphs" >140:00</text>
<text x="14.8" y="437.8" font-family="Liberation Sans" font-size="15.6" font-weight="normal" fill="#1a1a1a" text-anchor="start" textLength="34.8" lengthAdjust="spacingAndGlyphs" >160:00</text>
<text x="14.8" y="454.8" font-family="Liberation Sans" font-size="15.6" font-weight="normal" fill="#1a1a1a" text-anchor="start" textLength="34.8" lengthAdjust="spacingAndGlyphs" >180:00</text>
<text x="14.8" y="472.8" font-family="Liberation Sans" font-size="15.6" font-weight="normal" fill="#1a1a1a" text-anchor="start" textLength="37.6" lengthAdjust="spacingAndGlyphs" >200:00</text>
<text x="14.8" y="489.8" font-family="Liberation Sans" font-size="15.6" font-weight="normal" fill="#1a1a1a" text-anchor="start" textLength="37.6" lengthAdjust="spacingAndGlyphs" >220:00</text>
<text x="14.8" y="558.8" font-family="Liberation Sans" font-size="15.6" font-weight="normal" fill="#1a1a1a" text-anchor="start" textLength="18.2" lengthAdjust="spacingAndGlyphs" >180</text>
<text x="14.8" y="579.8" font-family="Liberation Sans" font-size="15.6" font-weight="normal" fill="#1a1a1a" text-anchor="start" textLength="18.2" lengthAdjust="spacingAndGlyphs" >160</text>
<text x="14.8" y="600.8" font-family="Liberation Sans" font-size="15.6" font-weight="normal" fill="#1a1a1a" text-anchor="start" textLength="18.2" lengthAdjust="spacingAndGlyphs" >140</text>
<text x="14.8" y="621.8" font-family="Liberation Sans" font-size="15.6" font-weight="normal" fill="#1a1a1a" text-anchor="start" textLength="18.2" lengthAdjust="spacingAndGlyphs" >120</text>
<text x="14.8" y="642.8" font-family="Liberation Sans" font-size="15.6" font-weight="normal" fill="#1a1a1a" text-anchor="start" textLength="18.2" lengthAdjust="spacingAndGlyphs" >100</text>
<text x="14.8" y="664.8" font-family="Liberation Sans" font-size="15.6" font-weight="normal" fill="#1a1a1a" text-anchor="start" textLength="14.0" lengthAdjust="spacingAndGlyphs" >80</text>
<text x="14.8" y="685.8" font-family="Liberation Sans" font-size="15.6" font-weight="normal" fill="#1a1a1a" text-anchor="start" textLength="14.0" lengthAdjust="spacingAndGlyphs" >60</text>
<text x="14.8" y="706.8" font-family="Liberation Sans" font-size="15.6" font-weight="normal" fill="#1a1a1a" text-anchor="start" textLength="14.0" lengthAdjust="spacingAndGlyphs" >40</text>
<text x="14.8" y="727.8" font-family="Liberation Sans" font-size="15.6" font-weight="normal" fill="#1a1a1a" text-anchor="start" textLength="14.0" lengthAdjust="spacingAndGlyphs" >20</text>
<text x="14.8" y="801.7" font-family="Liberation Sans" font-size="15.6" font-weight="normal" fill="#1a1a1a" text-anchor="start" textLength="11.2" lengthAdjust="spacingAndGlyphs" >16</text>
<text x="14.8" y="824.7" font-family="Liberation Sans" font-size="15.6" font-weight="normal" fill="#1a1a1a" text-anchor="start" textLength="11.2" lengthAdjust="spacingAndGlyphs" >14</text>
<text x="14.8" y="848.7" font-family="Liberation Sans" font-size="15.6" font-weight="normal" fill="#1a1a1a" text-anchor="start" textLength="11.2" lengthAdjust="spacingAndGlyphs" >12</text>
<text x="14.8" y="871.7" font-family="Liberation Sans" font-size="15.6" font-weight="normal" fill="#1a1a1a" text-anchor="start" textLength="11.2" lengthAdjust="spacingAndGlyphs" >10</text>
<text x="14.8" y="895.7" font-family="Liberation Sans" font-size="15.6" font-weight="normal" fill="#1a1a1a" text-anchor="start" textLength="7.0" lengthAdjust="spacingAndGlyphs" >8</text>
<text x="14.8" y="918.7" font-family="Liberation Sans" font-size="15.6" font-weight="normal" fill="#1a1a1a" text-anchor="start" textLength="7.0" lengthAdjust="spacingAndGlyphs" >6</text>
<text x="14.8" y="942.7" font-family="Liberation Sans" font-size="15.6" font-weight="normal" fill="#1a1a1a" text-anchor="start" textLength="7.0" lengthAdjust="spacingAndGlyphs" >4</text>
<text x="14.8" y="965.7" font-family="Liberation Sans" font-size="15.6" font-weight="normal" fill="#1a1a1a" text-anchor="start" textLength="7.0" lengthAdjust="spacingAndGlyphs" >2</text>
<text x="42.0" y="1008.6" font-family="Liberation Sans" font-size="14.8" font-weight="bold" fill="#000" text-anchor="start" textLength="31.7" lengthAdjust="spacingAndGlyphs" stroke="#000" stroke-width="0.3">200.0</text>
<text x="73.6" y="1008.6" font-family="Liberation Sans" font-size="14.8" font-weight="normal" fill="#111" text-anchor="start" textLength="9.6" lengthAdjust="spacingAndGlyphs" >m</text>
<text x="100.2" y="1008.6" font-family="Liberation Sans" font-size="14.8" font-weight="bold" fill="#000" text-anchor="start" textLength="31.7" lengthAdjust="spacingAndGlyphs" stroke="#000" stroke-width="0.3">400.0</text>
<text x="131.8" y="1008.6" font-family="Liberation Sans" font-size="14.8" font-weight="normal" fill="#111" text-anchor="start" textLength="9.6" lengthAdjust="spacingAndGlyphs" >m</text>
<text x="158.4" y="1008.6" font-family="Liberation Sans" font-size="14.8" font-weight="bold" fill="#000" text-anchor="start" textLength="31.7" lengthAdjust="spacingAndGlyphs" stroke="#000" stroke-width="0.3">600.0</text>
<text x="190.0" y="1008.6" font-family="Liberation Sans" font-size="14.8" font-weight="normal" fill="#111" text-anchor="start" textLength="9.6" lengthAdjust="spacingAndGlyphs" >m</text>
<text x="216.6" y="1008.6" font-family="Liberation Sans" font-size="14.8" font-weight="bold" fill="#000" text-anchor="start" textLength="31.7" lengthAdjust="spacingAndGlyphs" stroke="#000" stroke-width="0.3">800.0</text>
<text x="248.2" y="1008.6" font-family="Liberation Sans" font-size="14.8" font-weight="normal" fill="#111" text-anchor="start" textLength="9.6" lengthAdjust="spacingAndGlyphs" >m</text>
<text x="274.5" y="1008.6" font-family="Liberation Sans" font-size="14.8" font-weight="bold" fill="#000" text-anchor="start" textLength="24.7" lengthAdjust="spacingAndGlyphs" stroke="#000" stroke-width="0.3">1.00</text>
<text x="299.1" y="1008.6" font-family="Liberation Sans" font-size="14.8" font-weight="normal" fill="#111" text-anchor="start" textLength="17.1" lengthAdjust="spacingAndGlyphs" >Km</text>
<text x="332.7" y="1008.6" font-family="Liberation Sans" font-size="14.8" font-weight="bold" fill="#000" text-anchor="start" textLength="24.7" lengthAdjust="spacingAndGlyphs" stroke="#000" stroke-width="0.3">1.20</text>
<text x="357.3" y="1008.6" font-family="Liberation Sans" font-size="14.8" font-weight="normal" fill="#111" text-anchor="start" textLength="17.1" lengthAdjust="spacingAndGlyphs" >Km</text>
<text x="390.9" y="1008.6" font-family="Liberation Sans" font-size="14.8" font-weight="bold" fill="#000" text-anchor="start" textLength="24.7" lengthAdjust="spacingAndGlyphs" stroke="#000" stroke-width="0.3">1.40</text>
<text x="415.5" y="1008.6" font-family="Liberation Sans" font-size="14.8" font-weight="normal" fill="#111" text-anchor="start" textLength="17.1" lengthAdjust="spacingAndGlyphs" >Km</text>
<text x="449.1" y="1008.6" font-family="Liberation Sans" font-size="14.8" font-weight="bold" fill="#000" text-anchor="start" textLength="24.7" lengthAdjust="spacingAndGlyphs" stroke="#000" stroke-width="0.3">1.60</text>
<text x="473.7" y="1008.6" font-family="Liberation Sans" font-size="14.8" font-weight="normal" fill="#111" text-anchor="start" textLength="17.1" lengthAdjust="spacingAndGlyphs" >Km</text>
<text x="507.3" y="1008.6" font-family="Liberation Sans" font-size="14.8" font-weight="bold" fill="#000" text-anchor="start" textLength="24.7" lengthAdjust="spacingAndGlyphs" stroke="#000" stroke-width="0.3">1.80</text>
<text x="531.9" y="1008.6" font-family="Liberation Sans" font-size="14.8" font-weight="normal" fill="#111" text-anchor="start" textLength="17.1" lengthAdjust="spacingAndGlyphs" >Km</text>
<text x="565.5" y="1008.6" font-family="Liberation Sans" font-size="14.8" font-weight="bold" fill="#000" text-anchor="start" textLength="24.7" lengthAdjust="spacingAndGlyphs" stroke="#000" stroke-width="0.3">2.00</text>
<text x="590.1" y="1008.6" font-family="Liberation Sans" font-size="14.8" font-weight="normal" fill="#111" text-anchor="start" textLength="17.1" lengthAdjust="spacingAndGlyphs" >Km</text>
<text x="623.7" y="1008.6" font-family="Liberation Sans" font-size="14.8" font-weight="bold" fill="#000" text-anchor="start" textLength="24.7" lengthAdjust="spacingAndGlyphs" stroke="#000" stroke-width="0.3">2.20</text>
<text x="648.3" y="1008.6" font-family="Liberation Sans" font-size="14.8" font-weight="normal" fill="#111" text-anchor="start" textLength="17.1" lengthAdjust="spacingAndGlyphs" >Km</text>
<text x="681.9" y="1008.6" font-family="Liberation Sans" font-size="14.8" font-weight="bold" fill="#000" text-anchor="start" textLength="24.7" lengthAdjust="spacingAndGlyphs" stroke="#000" stroke-width="0.3">2.40</text>
<text x="706.5" y="1008.6" font-family="Liberation Sans" font-size="14.8" font-weight="normal" fill="#111" text-anchor="start" textLength="17.1" lengthAdjust="spacingAndGlyphs" >Km</text>
<text x="740.1" y="1008.6" font-family="Liberation Sans" font-size="14.8" font-weight="bold" fill="#000" text-anchor="start" textLength="24.7" lengthAdjust="spacingAndGlyphs" stroke="#000" stroke-width="0.3">2.60</text>
<text x="764.7" y="1008.6" font-family="Liberation Sans" font-size="14.8" font-weight="normal" fill="#111" text-anchor="start" textLength="17.1" lengthAdjust="spacingAndGlyphs" >Km</text>
<text x="798.3" y="1008.6" font-family="Liberation Sans" font-size="14.8" font-weight="bold" fill="#000" text-anchor="start" textLength="24.7" lengthAdjust="spacingAndGlyphs" stroke="#000" stroke-width="0.3">2.80</text>
<text x="822.9" y="1008.6" font-family="Liberation Sans" font-size="14.8" font-weight="normal" fill="#111" text-anchor="start" textLength="17.1" lengthAdjust="spacingAndGlyphs" >Km</text>
<text x="856.5" y="1008.6" font-family="Liberation Sans" font-size="14.8" font-weight="bold" fill="#000" text-anchor="start" textLength="24.7" lengthAdjust="spacingAndGlyphs" stroke="#000" stroke-width="0.3">3.00</text>
<text x="881.1" y="1008.6" font-family="Liberation Sans" font-size="14.8" font-weight="normal" fill="#111" text-anchor="start" textLength="17.1" lengthAdjust="spacingAndGlyphs" >Km</text>
<text x="914.7" y="1008.6" font-family="Liberation Sans" font-size="14.8" font-weight="bold" fill="#000" text-anchor="start" textLength="24.7" lengthAdjust="spacingAndGlyphs" stroke="#000" stroke-width="0.3">3.20</text>
<text x="939.3" y="1008.6" font-family="Liberation Sans" font-size="14.8" font-weight="normal" fill="#111" text-anchor="start" textLength="17.1" lengthAdjust="spacingAndGlyphs" >Km</text>
<text x="972.9" y="1008.6" font-family="Liberation Sans" font-size="14.8" font-weight="bold" fill="#000" text-anchor="start" textLength="24.7" lengthAdjust="spacingAndGlyphs" stroke="#000" stroke-width="0.3">3.40</text>
<text x="997.5" y="1008.6" font-family="Liberation Sans" font-size="14.8" font-weight="normal" fill="#111" text-anchor="start" textLength="17.1" lengthAdjust="spacingAndGlyphs" >Km</text>
<text x="1031.1" y="1008.6" font-family="Liberation Sans" font-size="14.8" font-weight="bold" fill="#000" text-anchor="start" textLength="24.7" lengthAdjust="spacingAndGlyphs" stroke="#000" stroke-width="0.3">3.60</text>
<text x="1055.7" y="1008.6" font-family="Liberation Sans" font-size="14.8" font-weight="normal" fill="#111" text-anchor="start" textLength="17.1" lengthAdjust="spacingAndGlyphs" >Km</text>
<text x="1089.3" y="1008.6" font-family="Liberation Sans" font-size="14.8" font-weight="bold" fill="#000" text-anchor="start" textLength="24.7" lengthAdjust="spacingAndGlyphs" stroke="#000" stroke-width="0.3">3.80</text>
<text x="1113.9" y="1008.6" font-family="Liberation Sans" font-size="14.8" font-weight="normal" fill="#111" text-anchor="start" textLength="17.1" lengthAdjust="spacingAndGlyphs" >Km</text>
<text x="1147.5" y="1008.6" font-family="Liberation Sans" font-size="14.8" font-weight="bold" fill="#000" text-anchor="start" textLength="24.7" lengthAdjust="spacingAndGlyphs" stroke="#000" stroke-width="0.3">4.00</text>
<text x="1172.1" y="1008.6" font-family="Liberation Sans" font-size="14.8" font-weight="normal" fill="#111" text-anchor="start" textLength="17.1" lengthAdjust="spacingAndGlyphs" >Km</text>
<text x="1205.7" y="1008.6" font-family="Liberation Sans" font-size="14.8" font-weight="bold" fill="#000" text-anchor="start" textLength="24.7" lengthAdjust="spacingAndGlyphs" stroke="#000" stroke-width="0.3">4.20</text>
<text x="1230.3" y="1008.6" font-family="Liberation Sans" font-size="14.8" font-weight="normal" fill="#111" text-anchor="start" textLength="17.1" lengthAdjust="spacingAndGlyphs" >Km</text>
<text x="1263.9" y="1008.6" font-family="Liberation Sans" font-size="14.8" font-weight="bold" fill="#000" text-anchor="start" textLength="24.7" lengthAdjust="spacingAndGlyphs" stroke="#000" stroke-width="0.3">4.40</text>
<text x="1288.5" y="1008.6" font-family="Liberation Sans" font-size="14.8" font-weight="normal" fill="#111" text-anchor="start" textLength="17.1" lengthAdjust="spacingAndGlyphs" >Km</text>
<text x="1322.1" y="1008.6" font-family="Liberation Sans" font-size="14.8" font-weight="bold" fill="#000" text-anchor="start" textLength="24.7" lengthAdjust="spacingAndGlyphs" stroke="#000" stroke-width="0.3">4.60</text>
<text x="1346.7" y="1008.6" font-family="Liberation Sans" font-size="14.8" font-weight="normal" fill="#111" text-anchor="start" textLength="17.1" lengthAdjust="spacingAndGlyphs" >Km</text>
<text x="1380.3" y="1008.6" font-family="Liberation Sans" font-size="14.8" font-weight="bold" fill="#000" text-anchor="start" textLength="24.7" lengthAdjust="spacingAndGlyphs" stroke="#000" stroke-width="0.3">4.80</text>
<text x="1404.9" y="1008.6" font-family="Liberation Sans" font-size="14.8" font-weight="normal" fill="#111" text-anchor="start" textLength="17.1" lengthAdjust="spacingAndGlyphs" >Km</text>
<text x="1438.5" y="1008.6" font-family="Liberation Sans" font-size="14.8" font-weight="bold" fill="#000" text-anchor="start" textLength="24.7" lengthAdjust="spacingAndGlyphs" stroke="#000" stroke-width="0.3">5.00</text>
<text x="1463.1" y="1008.6" font-family="Liberation Sans" font-size="14.8" font-weight="normal" fill="#111" text-anchor="start" textLength="17.1" lengthAdjust="spacingAndGlyphs" >Km</text>
<text x="1496.7" y="1008.6" font-family="Liberation Sans" font-size="14.8" font-weight="bold" fill="#000" text-anchor="start" textLength="24.7" lengthAdjust="spacingAndGlyphs" stroke="#000" stroke-width="0.3">5.20</text>
<text x="1521.3" y="1008.6" font-family="Liberation Sans" font-size="14.8" font-weight="normal" fill="#111" text-anchor="start" textLength="17.1" lengthAdjust="spacingAndGlyphs" >Km</text>
<text x="739.8" y="1037.9" font-family="Liberation Sans" font-size="15.4" font-weight="bold" fill="#000" text-anchor="start" textLength="48.8" lengthAdjust="spacingAndGlyphs" stroke="#000" stroke-width="0.3">Distance</text>
<rect x="1448.6" y="33.6" width="75" height="44.7" rx="3" fill="#e1e1e1" fill-opacity="0.9"/>
<text x="1460.2" y="61.0" font-family="Liberation Sans" font-size="17" font-weight="normal" fill="#222" text-anchor="start" textLength="50.8" lengthAdjust="spacingAndGlyphs" >Zooming</text>
<text x="1357.7" y="961.7" font-family="Liberation Sans" font-size="24.5" fill="#2a2a2a" textLength="150.3" lengthAdjust="spacingAndGlyphs" style="text-shadow:0 0 2px rgba(255,255,255,.6)">Quantified-Self.io</text>
<circle cx="156.4" cy="1082.3" r="11.5" fill="#19dd55" stroke="#1a96f0" stroke-width="4"/>
<text x="173.3" y="1088.6" font-family="Liberation Sans" font-size="17.5" font-weight="normal" fill="#111" text-anchor="start" textLength="86.7" lengthAdjust="spacingAndGlyphs" >Altitude (m)</text>
<text x="264.9" y="1088.6" font-family="Liberation Sans" font-size="17.5" font-weight="normal" fill="#f5801e" text-anchor="start" textLength="38.1" lengthAdjust="spacingAndGlyphs" >Stryd</text>
<circle cx="156.4" cy="1121.3" r="11.5" fill="#ffa500" stroke="#1a96f0" stroke-width="4"/>
<text x="173.3" y="1127.6" font-family="Liberation Sans" font-size="17.5" font-weight="normal" fill="#111" text-anchor="start" textLength="106.9" lengthAdjust="spacingAndGlyphs" >Pace (min/km)</text>
<text x="285.0" y="1127.6" font-family="Liberation Sans" font-size="17.5" font-weight="normal" fill="#f5801e" text-anchor="start" textLength="38.2" lengthAdjust="spacingAndGlyphs" >Stryd</text>
<circle cx="156.4" cy="1160.3" r="13.5" fill="#9b9b9b"/>
<text x="173.6" y="1166.6" font-family="Liberation Sans" font-size="17.5" font-weight="normal" fill="#9a9a9a" text-anchor="start" textLength="108.8" lengthAdjust="spacingAndGlyphs" >Cadence (rpm)</text>
<text x="287.5" y="1166.6" font-family="Liberation Sans" font-size="17.5" font-weight="normal" fill="#3f87cf" text-anchor="start" textLength="105.5" lengthAdjust="spacingAndGlyphs" >Suunto Race S</text>
<circle cx="156.4" cy="1199.3" r="13.5" fill="#9b9b9b"/>
<text x="173.6" y="1205.6" font-family="Liberation Sans" font-size="17.5" font-weight="normal" fill="#9a9a9a" text-anchor="start" textLength="92.7" lengthAdjust="spacingAndGlyphs" >Power (watt)</text>
<text x="271.9" y="1205.6" font-family="Liberation Sans" font-size="17.5" font-weight="normal" fill="#3f87cf" text-anchor="start" textLength="105.4" lengthAdjust="spacingAndGlyphs" >Suunto Race S</text>
<circle cx="430.5" cy="1082.3" r="13.5" fill="#9b9b9b"/>
<text x="447.8" y="1088.6" font-family="Liberation Sans" font-size="17.5" font-weight="normal" fill="#9a9a9a" text-anchor="start" textLength="108.2" lengthAdjust="spacingAndGlyphs" >Cadence (rpm)</text>
<text x="561.2" y="1088.6" font-family="Liberation Sans" font-size="17.5" font-weight="normal" fill="#f5801e" text-anchor="start" textLength="37.8" lengthAdjust="spacingAndGlyphs" >Stryd</text>
<circle cx="430.5" cy="1121.3" r="13.5" fill="#9b9b9b"/>
<text x="447.8" y="1127.6" font-family="Liberation Sans" font-size="17.5" font-weight="normal" fill="#9a9a9a" text-anchor="start" textLength="92.6" lengthAdjust="spacingAndGlyphs" >Power (watt)</text>
<text x="545.6" y="1127.6" font-family="Liberation Sans" font-size="17.5" font-weight="normal" fill="#f5801e" text-anchor="start" textLength="37.8" lengthAdjust="spacingAndGlyphs" >Stryd</text>
<circle cx="430.5" cy="1160.3" r="13.5" fill="#9b9b9b"/>
<text x="447.6" y="1166.6" font-family="Liberation Sans" font-size="17.5" font-weight="normal" fill="#9a9a9a" text-anchor="start" textLength="226.8" lengthAdjust="spacingAndGlyphs" >Grade Adjusted Pace (min/km)</text>
<text x="679.5" y="1166.6" font-family="Liberation Sans" font-size="17.5" font-weight="normal" fill="#3f87cf" text-anchor="start" textLength="105.5" lengthAdjust="spacingAndGlyphs" >Suunto Race S</text>
<circle cx="430.5" cy="1199.3" r="11.5" fill="#00bcd4" stroke="#1a96f0" stroke-width="4"/>
<text x="447.6" y="1205.6" font-family="Liberation Sans" font-size="17.5" font-weight="normal" fill="#111" text-anchor="start" textLength="98.4" lengthAdjust="spacingAndGlyphs" >Speed (km/h)</text>
<text x="551.1" y="1205.6" font-family="Liberation Sans" font-size="17.5" font-weight="normal" fill="#3f87cf" text-anchor="start" textLength="105.5" lengthAdjust="spacingAndGlyphs" >Suunto Race S</text>
<circle cx="823.5" cy="1082.3" r="13.5" fill="#9b9b9b"/>
<text x="840.7" y="1088.6" font-family="Liberation Sans" font-size="17.5" font-weight="normal" fill="#9a9a9a" text-anchor="start" textLength="226.7" lengthAdjust="spacingAndGlyphs" >Grade Adjusted Pace (min/km)</text>
<text x="1072.6" y="1088.6" font-family="Liberation Sans" font-size="17.5" font-weight="normal" fill="#f5801e" text-anchor="start" textLength="38.2" lengthAdjust="spacingAndGlyphs" >Stryd</text>
<circle cx="823.5" cy="1121.3" r="11.5" fill="#1ab3ec" stroke="#1a96f0" stroke-width="4"/>
<text x="840.7" y="1127.6" font-family="Liberation Sans" font-size="17.5" font-weight="normal" fill="#111" text-anchor="start" textLength="98.6" lengthAdjust="spacingAndGlyphs" >Speed (km/h)</text>
<text x="943.9" y="1127.6" font-family="Liberation Sans" font-size="17.5" font-weight="normal" fill="#f5801e" text-anchor="start" textLength="38.2" lengthAdjust="spacingAndGlyphs" >Stryd</text>
<circle cx="823.5" cy="1160.3" r="11.5" fill="#a36ff0" stroke="#1a96f0" stroke-width="4"/>
<text x="840.7" y="1166.6" font-family="Liberation Sans" font-size="17.5" font-weight="normal" fill="#111" text-anchor="start" textLength="127.2" lengthAdjust="spacingAndGlyphs" >Heart Rate (bpm)</text>
<text x="973.1" y="1166.6" font-family="Liberation Sans" font-size="17.5" font-weight="normal" fill="#3f87cf" text-anchor="start" textLength="105.8" lengthAdjust="spacingAndGlyphs" >Suunto Race S</text>
<circle cx="1148.4" cy="1082.3" r="11.5" fill="#f55a45" stroke="#1a96f0" stroke-width="4"/>
<text x="1165.5" y="1088.6" font-family="Liberation Sans" font-size="17.5" font-weight="normal" fill="#111" text-anchor="start" textLength="127.4" lengthAdjust="spacingAndGlyphs" >Heart Rate (bpm)</text>
<text x="1298.0" y="1088.6" font-family="Liberation Sans" font-size="17.5" font-weight="normal" fill="#f5801e" text-anchor="start" textLength="38.2" lengthAdjust="spacingAndGlyphs" >Stryd</text>
<circle cx="1148.4" cy="1121.3" r="11.5" fill="#c0ee5a" stroke="#1a96f0" stroke-width="4"/>
<text x="1165.5" y="1127.6" font-family="Liberation Sans" font-size="17.5" font-weight="normal" fill="#111" text-anchor="start" textLength="86.7" lengthAdjust="spacingAndGlyphs" >Altitude (m)</text>
<text x="1257.0" y="1127.6" font-family="Liberation Sans" font-size="17.5" font-weight="normal" fill="#3f87cf" text-anchor="start" textLength="105.8" lengthAdjust="spacingAndGlyphs" >Suunto Race S</text>
<circle cx="1148.4" cy="1160.3" r="11.5" fill="#673ab7" stroke="#1a96f0" stroke-width="4"/>
<text x="1165.5" y="1166.6" font-family="Liberation Sans" font-size="17.5" font-weight="normal" fill="#111" text-anchor="start" textLength="106.4" lengthAdjust="spacingAndGlyphs" >Pace (min/km)</text>
<text x="1277.0" y="1166.6" font-family="Liberation Sans" font-size="17.5" font-weight="normal" fill="#3f87cf" text-anchor="start" textLength="105.3" lengthAdjust="spacingAndGlyphs" >Suunto Race S</text>
</svg></body></html>
